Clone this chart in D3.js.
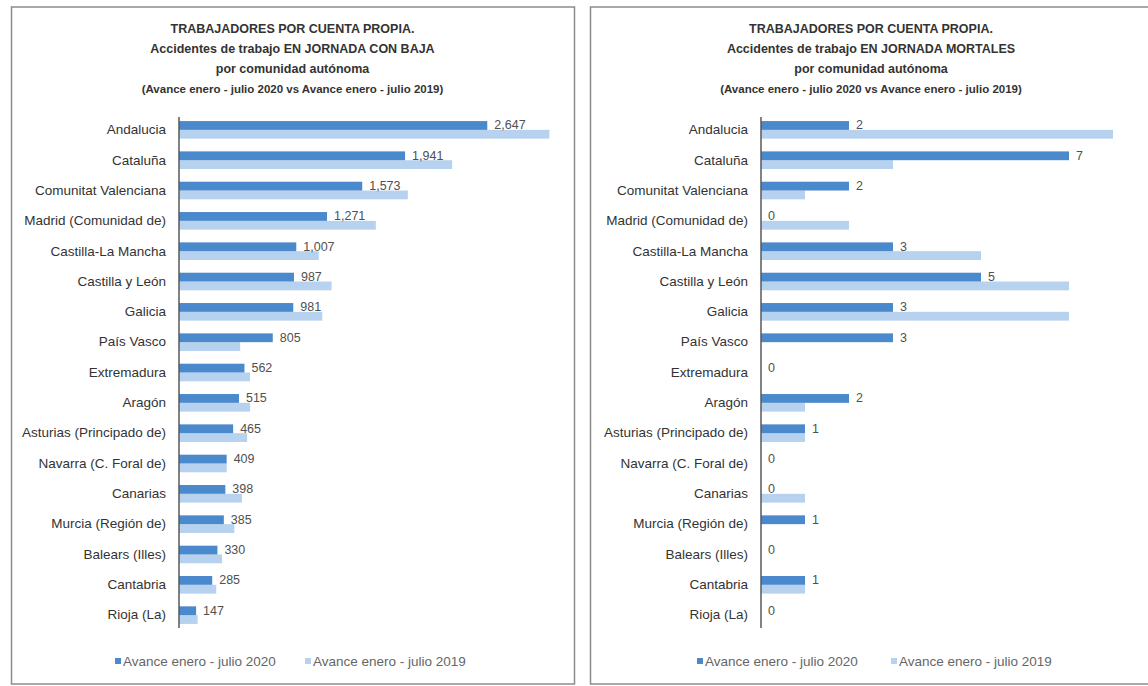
<!DOCTYPE html>
<html>
<head>
<meta charset="utf-8">
<script src="https://cdn.jsdelivr.net/npm/d3@7"></script>
<style>
  body { margin: 0; background: #fff; }
  svg { display: block; font-family: "Liberation Sans", Arial, sans-serif; }
</style>
</head>
<body>
<div id="chart"></div>
<script>
const width = 1148;
const height = 686;

const comunidades = [
    "Andalucia", "Cataluña", "Comunitat Valenciana", "Madrid (Comunidad de)",
    "Castilla-La Mancha", "Castilla y León", "Galicia", "País Vasco",
    "Extremadura", "Aragón", "Asturias (Principado de)", "Navarra (C. Foral de)",
    "Canarias", "Murcia (Región de)", "Balears (Illes)", "Cantabria", "Rioja (La)"
];

// accidentes con baja
const baja2020 = [2647, 1941, 1573, 1271, 1007, 987, 981, 805, 562, 515, 465, 409, 398, 385, 330, 285, 147];
const baja2019 = [3180, 2345, 1965, 1690, 1200, 1310, 1230, 525, 610, 610, 585, 410, 540, 475, 370, 320, 160];

// accidentes mortales
const mortales2020 = [2, 7, 2, 0, 3, 5, 3, 3, 0, 2, 1, 0, 0, 1, 0, 1, 0];
const mortales2019 = [8, 3, 1, 2, 5, 7, 7, 0, 0, 1, 1, 0, 1, 0, 0, 1, 0];

const titulosBaja = [
    "TRABAJADORES POR CUENTA PROPIA.",
    "Accidentes de trabajo EN JORNADA CON BAJA",
    "por comunidad autónoma",
    "(Avance enero - julio 2020 vs Avance enero - julio 2019)"
];
const titulosMortales = [
    "TRABAJADORES POR CUENTA PROPIA.",
    "Accidentes de trabajo EN JORNADA MORTALES",
    "por comunidad autónoma",
    "(Avance enero - julio 2020 vs Avance enero - julio 2019)"
];
const leyenda = ["Avance enero - julio 2020", "Avance enero - julio 2019"];

const color2020 = "#4a89cc";
const color2019 = "#b7d2ee";

const svg = d3.select("#chart")
    .append("svg")
    .attr("width", width)
    .attr("height", height);

function drawPanel(panel) {
    const g = svg.append("g").attr("transform", `translate(${panel.x}, 0)`);

    g.append("rect")
        .attr("x", 0.5)
        .attr("y", 7)
        .attr("width", panel.w)
        .attr("height", 677)
        .attr("fill", "#fff")
        .attr("stroke", "#8c8c8c")
        .attr("stroke-width", 1.5);

    g.selectAll(".titulo")
        .data(panel.titulos)
        .join("text")
        .attr("class", "titulo")
        .attr("x", panel.w / 2)
        .attr("y", (d, i) => 33 + i * 20)
        .attr("text-anchor", "middle")
        .attr("font-size", (d, i) => i == 3 ? 11.5 : 12.5)
        .attr("font-weight", "bold")
        .attr("fill", "#333")
        .text(d => d);

    const escalaY = d3.scaleBand()
        .domain(comunidades)
        .range([115, 630])
        .paddingInner(0.42)
        .paddingOuter(0.2);

    const escalaX = d3.scaleLinear()
        .domain(panel.domain)
        .range([panel.axisX, panel.axisX + 396]);

    const barH = escalaY.bandwidth() / 2;

    const filas = comunidades.map((c, i) => ({ c, v20: panel.v20[i], v19: panel.v19[i] }));

    g.selectAll(".b19")
        .data(filas)
        .join("rect")
        .attr("class", "b19")
        .attr("x", escalaX(0))
        .attr("y", d => escalaY(d.c) + barH)
        .attr("width", d => escalaX(d.v19) - escalaX(0))
        .attr("height", barH)
        .attr("fill", color2019);

    g.selectAll(".b20")
        .data(filas)
        .join("rect")
        .attr("class", "b20")
        .attr("x", escalaX(0))
        .attr("y", d => escalaY(d.c))
        .attr("width", d => escalaX(d.v20) - escalaX(0))
        .attr("height", barH)
        .attr("fill", color2020);

    g.selectAll(".valor")
        .data(filas)
        .join("text")
        .attr("class", "valor")
        .attr("x", d => escalaX(d.v20) + 7)
        .attr("y", d => escalaY(d.c) + barH / 2)
        .attr("dy", "0.32em")
        .attr("font-size", 12.5)
        .attr("fill", "#505050")
        .text(d => d3.format(",")(d.v20));

    const ejeY = d3.axisLeft(escalaY).tickSize(0).tickPadding(13);
    const eje = g.append("g")
        .attr("transform", `translate(${panel.axisX}, 0)`)
        .call(ejeY);
    eje.select(".domain").attr("stroke", "#595959").attr("stroke-width", 1.5)
        .attr("d", `M0,${escalaY.range()[0] + 2}V${escalaY.range()[1] - 2}`);
    eje.selectAll("text")
        .attr("font-size", 13.5)
        .attr("font-family", "Liberation Sans, Arial, sans-serif")
        .attr("fill", "#333");

    const ley = g.append("g").attr("transform", `translate(0, 662)`);
    [color2020, color2019].forEach((col, i) => {
        const lx = panel.legX[i];
        ley.append("rect")
            .attr("x", lx)
            .attr("y", -4)
            .attr("width", 6)
            .attr("height", 6)
            .attr("fill", col);
        ley.append("text")
            .attr("x", lx + 8)
            .attr("y", 0)
            .attr("dy", "0.32em")
            .attr("font-size", 13.5)
            .attr("fill", "#666")
            .text(leyenda[i]);
    });
}

drawPanel({
    x: 11, w: 563, titulos: titulosBaja, v20: baja2020, v19: baja2019,
    domain: [0, 3400], axisX: 168, legX: [104, 294]
});
drawPanel({
    x: 590, w: 562, titulos: titulosMortales, v20: mortales2020, v19: mortales2019,
    domain: [0, 9], axisX: 171, legX: [107, 301]
});
</script>
</body>
</html>
